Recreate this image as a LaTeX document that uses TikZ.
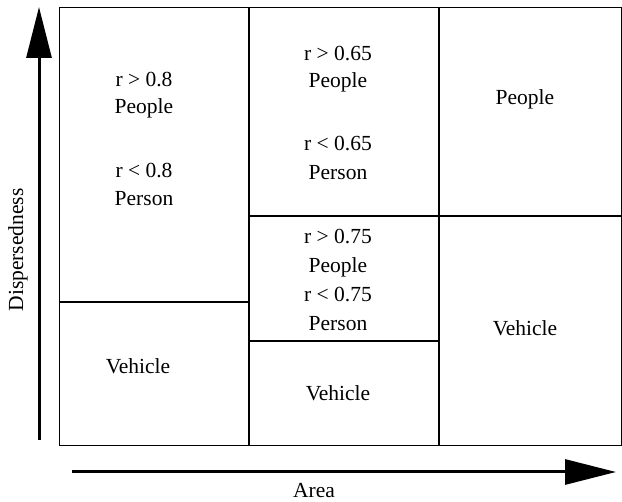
\documentclass[tikz,border=0pt]{standalone}
\usepackage{fontspec}
\setmainfont{Liberation Serif}
\usetikzlibrary{arrows.meta}
\begin{document}
\begin{tikzpicture}[x=1pt,y=-1pt,
  cell/.style={line width=1.3pt},
  axis/.style={line width=3pt,-{Triangle[length=51pt,width=25pt]}},
  lbl/.style={anchor=base,inner sep=0pt,font=\fontsize{21.5}{26}\selectfont}]
\useasboundingbox (0,0) rectangle (622,502);
% grid
\draw[cell] (59.5,7.5) rectangle (621.5,445.5);
\draw[cell] (249,7.5) -- (249,445.5);
\draw[cell] (439,7.5) -- (439,445.5);
\draw[cell] (59.5,302) -- (249,302);
\draw[cell] (249,216) -- (621.5,216);
\draw[cell] (249,341) -- (439,341);
% axes
\coordinate (ya) at (39,440);
\coordinate (yb) at (39,7);
\coordinate (xa) at (72,472);
\coordinate (xb) at (616,472);
\draw[axis] (ya) -- (yb);
\draw[axis] (xa) -- (xb);
\node[rotate=90,inner sep=0pt,font=\fontsize{21.5}{26}\selectfont] (ylab) at (18,250) {Dispersedness};
\node[lbl] (xlab) at (314,498) {Area};
% left column
\node[lbl] (a1) at (144,87) {r > 0.8};
\node[lbl] (a2) at (144,114) {People};
\node[lbl] (a3) at (144,178) {r < 0.8};
\node[lbl] (a4) at (144,206) {Person};
\node[lbl] (a5) at (138,374) {Vehicle};
% middle column
\node[lbl] (b1) at (338,61) {r > 0.65};
\node[lbl] (b2) at (338,88) {People};
\node[lbl] (b3) at (338,151) {r < 0.65};
\node[lbl] (b4) at (338,180) {Person};
\node[lbl] (b5) at (338,244) {r > 0.75};
\node[lbl] (b6) at (338,273) {People};
\node[lbl] (b7) at (338,302) {r < 0.75};
\node[lbl] (b8) at (338,331) {Person};
\node[lbl] (b9) at (338,401) {Vehicle};
% right column
\node[lbl] (c1) at (525,105) {People};
\node[lbl] (c2) at (525,336) {Vehicle};
\end{tikzpicture}
\end{document}
